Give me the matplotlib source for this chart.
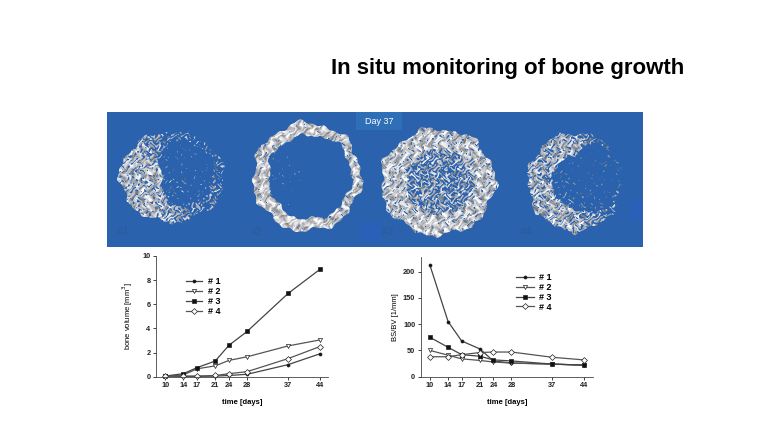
import numpy as np
import matplotlib
matplotlib.use('Agg')
import matplotlib.pyplot as plt
from matplotlib.patches import Rectangle

plt.rcParams['font.family'] = ['Liberation Sans', 'DejaVu Sans']

W, H = 768, 432

days = [10, 14, 17, 21, 24, 28, 37, 44]
names = ['# 1', '# 2', '# 3', '# 4']

volume_1 = [0.05, 0.02, 0.03, 0.05, 0.1, 0.2, 1.0, 1.9]
volume_2 = [0.02, 0.15, 0.65, 0.9, 1.35, 1.65, 2.55, 3.05]
volume_3 = [0.05, 0.25, 0.75, 1.3, 2.6, 3.75, 6.9, 8.9]
volume_4 = [0.05, 0.05, 0.05, 0.1, 0.25, 0.42, 1.5, 2.5]

ratio_1 = [212, 105, 68, 53, 30, 26, 24, 22]
ratio_2 = [50, 41, 34, 31, 28, 26, 24, 22]
ratio_3 = [75, 56, 42, 39, 32, 30, 24, 22]
ratio_4 = [38, 38, 42, 46, 47, 47, 37, 32]

# photo banner, sketched by sector: angle 0, 30, ... 360 degrees, counter-clockwise from east
sector_angles = [0, 30, 60, 90, 120, 150, 180, 210, 240, 270, 300, 330, 360]
# cx, cy, rx, ry in pixels
specimen_boxes = [(172, 177, 52, 45), (307, 177, 54, 54), (438, 182, 57, 53), (575, 182, 47, 49)]
inner_edge = [
    [0.80, 0.85, 0.85, 0.80, 0.55, 0.25, 0.15, 0.25, 0.35, 0.60, 0.70, 0.75, 0.80],
    [0.82, 0.84, 0.82, 0.76, 0.76, 0.76, 0.70, 0.72, 0.76, 0.78, 0.80, 0.82, 0.82],
    [0.62, 0.60, 0.62, 0.62, 0.58, 0.58, 0.55, 0.58, 0.60, 0.60, 0.62, 0.62, 0.62],
    [0.93, 0.95, 0.92, 0.55, 0.50, 0.50, 0.50, 0.50, 0.50, 0.55, 0.72, 0.88, 0.93],
]
rim_cover = [
    [0.22, 0.15, 0.15, 0.22, 0.45, 0.75, 0.78, 0.78, 0.75, 0.60, 0.32, 0.28, 0.22],
    [0.92, 0.92, 0.96, 0.98, 0.96, 0.92, 0.94, 0.96, 0.98, 0.98, 0.92, 0.88, 0.92],
    [0.86, 0.86, 0.88, 0.88, 0.88, 0.88, 0.88, 0.88, 0.90, 0.92, 0.90, 0.86, 0.86],
    [0.15, 0.15, 0.18, 0.70, 0.75, 0.70, 0.70, 0.75, 0.78, 0.70, 0.40, 0.18, 0.15],
]
core_cover = [
    [0.03, 0.02, 0.01, 0.02, 0.06, 0.07, 0.07, 0.07, 0.06, 0.06, 0.05, 0.04, 0.03],
    [0.00, 0.00, 0.00, 0.00, 0.00, 0.01, 0.02, 0.01, 0.00, 0.00, 0.00, 0.00, 0.00],
    [0.48, 0.48, 0.48, 0.48, 0.48, 0.48, 0.50, 0.50, 0.50, 0.50, 0.48, 0.48, 0.48],
    [0.02, 0.02, 0.01, 0.02, 0.02, 0.04, 0.05, 0.06, 0.06, 0.06, 0.05, 0.03, 0.02],
]
tags = [('#1', 123), ('#2', 257), ('#3', 388), ('#4', 526)]


def make_banner():
    # drawn at 3x and averaged down, so the edges are as soft as in the photo
    s = 3
    x0, y0, bw, bh = 107, 112, 536, 135
    px, py = np.meshgrid(x0 + (np.arange(bw * s) + 0.5) / s, y0 + (np.arange(bh * s) + 0.5) / s)
    blue = np.array([42, 98, 173]) / 255
    img = np.ones(px.shape + (3,)) * blue
    # interference of a few sine waves as a stand-in for the porous bone structure
    wx = px + 3 * np.sin(py * 0.23) + 1.5 * np.sin(py * 0.71 + px * 0.13)
    wy = py + 3 * np.sin(px * 0.19) + 1.5 * np.sin(px * 0.67 - py * 0.17)
    pores = (np.sin(wx * 1.03 + wy * 0.41) + np.sin(wx * 0.47 - wy * 1.11)
             + np.sin(wx * 1.43 + wy * 1.27) + np.sin(wx * 0.79 + wy * 0.97 + 1)
             + np.sin(wx * 1.71 - wy * 0.63 + 2) + np.sin(wx * 0.13 + wy * 1.57))
    light = (np.sin(wx * 0.61 + wy * 0.23 + 2) + np.sin(wx * 0.29 - wy * 0.53)
             + np.sin(wx * 0.97 + wy * 0.79) + pores * 0.35)
    rank = pores.ravel().argsort().argsort().reshape(pores.shape) / pores.size
    shade = np.clip(0.80 + 0.10 * light, 0.42, 1.0)
    for box, edge, rim, core in zip(specimen_boxes, inner_edge, rim_cover, core_cover):
        cx, cy, rx, ry = box
        ang = np.degrees(np.arctan2(-(py - cy), px - cx)) % 360
        r = np.hypot((px - cx) / rx, (py - cy) / ry)
        t = np.radians(ang)
        r = r * (1 + 0.035 * np.sin(7 * t + cx) + 0.025 * np.sin(13 * t + cy) + 0.015 * np.sin(29 * t))
        cover = np.where(r > np.interp(ang, sector_angles, edge),
                         np.interp(ang, sector_angles, rim),
                         np.interp(ang, sector_angles, core))
        bone = (r < 1) & (rank < cover)
        img[bone] = np.stack([shade[bone], shade[bone], shade[bone] * 1.01], axis=-1).clip(0, 1)
    return img.reshape(bh, s, bw, s, 3).mean(axis=(1, 3)), (x0, x0 + bw, y0 + bh, y0)


fig = plt.figure(figsize=(W / 100, H / 100), dpi=100)
bg = fig.add_axes([0, 0, 1, 1])

banner, extent = make_banner()
bg.imshow(banner, extent=extent, aspect='auto', interpolation='bilinear')
bg.set_xlim(0, W)
bg.set_ylim(H, 0)
bg.axis('off')

bg.text(507.5, 68.3, 'In situ monitoring of bone growth', fontsize=16, fontweight='bold',
        ha='center', va='center', color='black')

bg.add_patch(Rectangle((360, 222), 20, 20, color='#2b60b8', lw=0))
bg.add_patch(Rectangle((630, 200), 13, 20, color='#2b60b8', lw=0))
bg.add_patch(Rectangle((356, 112), 46, 18, color='#2f6fb8', lw=0))
bg.text(379, 121, 'Day 37', fontsize=6.5, color='white', ha='center', va='center')
for tag, x in tags:
    bg.text(x, 232, tag, fontsize=8, fontweight='bold', color='#2c5c9f', ha='center', va='center')


def add_chart(box, xlim, ylim, series, yticks):
    # box is left, top, right, bottom in pixels
    left, top, right, bottom = box
    ax = fig.add_axes([left / W, 1 - bottom / H, (right - left) / W, (bottom - top) / H])
    ax.patch.set_alpha(0)
    styles = [
        dict(marker='o', mfc='#111111', ms=2.2, color='#444444'),
        dict(marker='v', mfc='white', ms=3, color='#555555'),
        dict(marker='s', mfc='#111111', ms=2.8, color='#444444'),
        dict(marker='D', mfc='white', ms=3, color='#555555'),
    ]
    for values, name, style in zip(series, names, styles):
        ax.plot(days, values, label=name, lw=0.9, mec='#222222', mew=0.5, clip_on=False, **style)
    ax.set_xlim(*xlim)
    ax.set_ylim(*ylim)
    ax.set_xticks(days)
    ax.set_yticks(yticks)
    ax.tick_params(labelsize=5.3, length=2, width=0.6, pad=2, colors='#222222')
    for lab in ax.get_xticklabels() + ax.get_yticklabels():
        lab.set_fontweight('bold')
    ax.spines[['top', 'right']].set_visible(False)
    ax.spines[['left', 'bottom']].set_linewidth(0.6)
    ax.spines[['left', 'bottom']].set_color('#444444')
    ax.set_xlabel('time [days]', fontsize=5.5, fontweight='bold', labelpad=7)
    return ax


ax1 = add_chart((156, 256, 328, 376.7), (8.0, 45.75), (0, 10),
                [volume_1, volume_2, volume_3, volume_4], [0, 2, 4, 6, 8, 10])
ax1.set_ylabel('bone volume [mm$^3$]', fontsize=5.5, labelpad=5)
ax1.legend(loc='upper left', bbox_to_anchor=(0.174, 0.825), frameon=False, handlelength=1.8,
           handletextpad=0.66, labelspacing=0.1, borderpad=0, borderaxespad=0,
           prop={'size': 6.5, 'weight': 'bold'})

ax2 = add_chart((420.7, 256.7, 593, 376.7), (7.95, 46), (0, 228.6),
                [ratio_1, ratio_2, ratio_3, ratio_4], [0, 50, 100, 150, 200])
ax2.set_ylabel('BS/BV [1/mm]', fontsize=5.5, labelpad=3)
ax2.legend(loc='upper left', bbox_to_anchor=(0.553, 0.865), frameon=False, handlelength=2.0,
           handletextpad=0.6, labelspacing=0.1, borderpad=0, borderaxespad=0,
           prop={'size': 6.5, 'weight': 'bold'})

fig.savefig('out.png', dpi=100)
